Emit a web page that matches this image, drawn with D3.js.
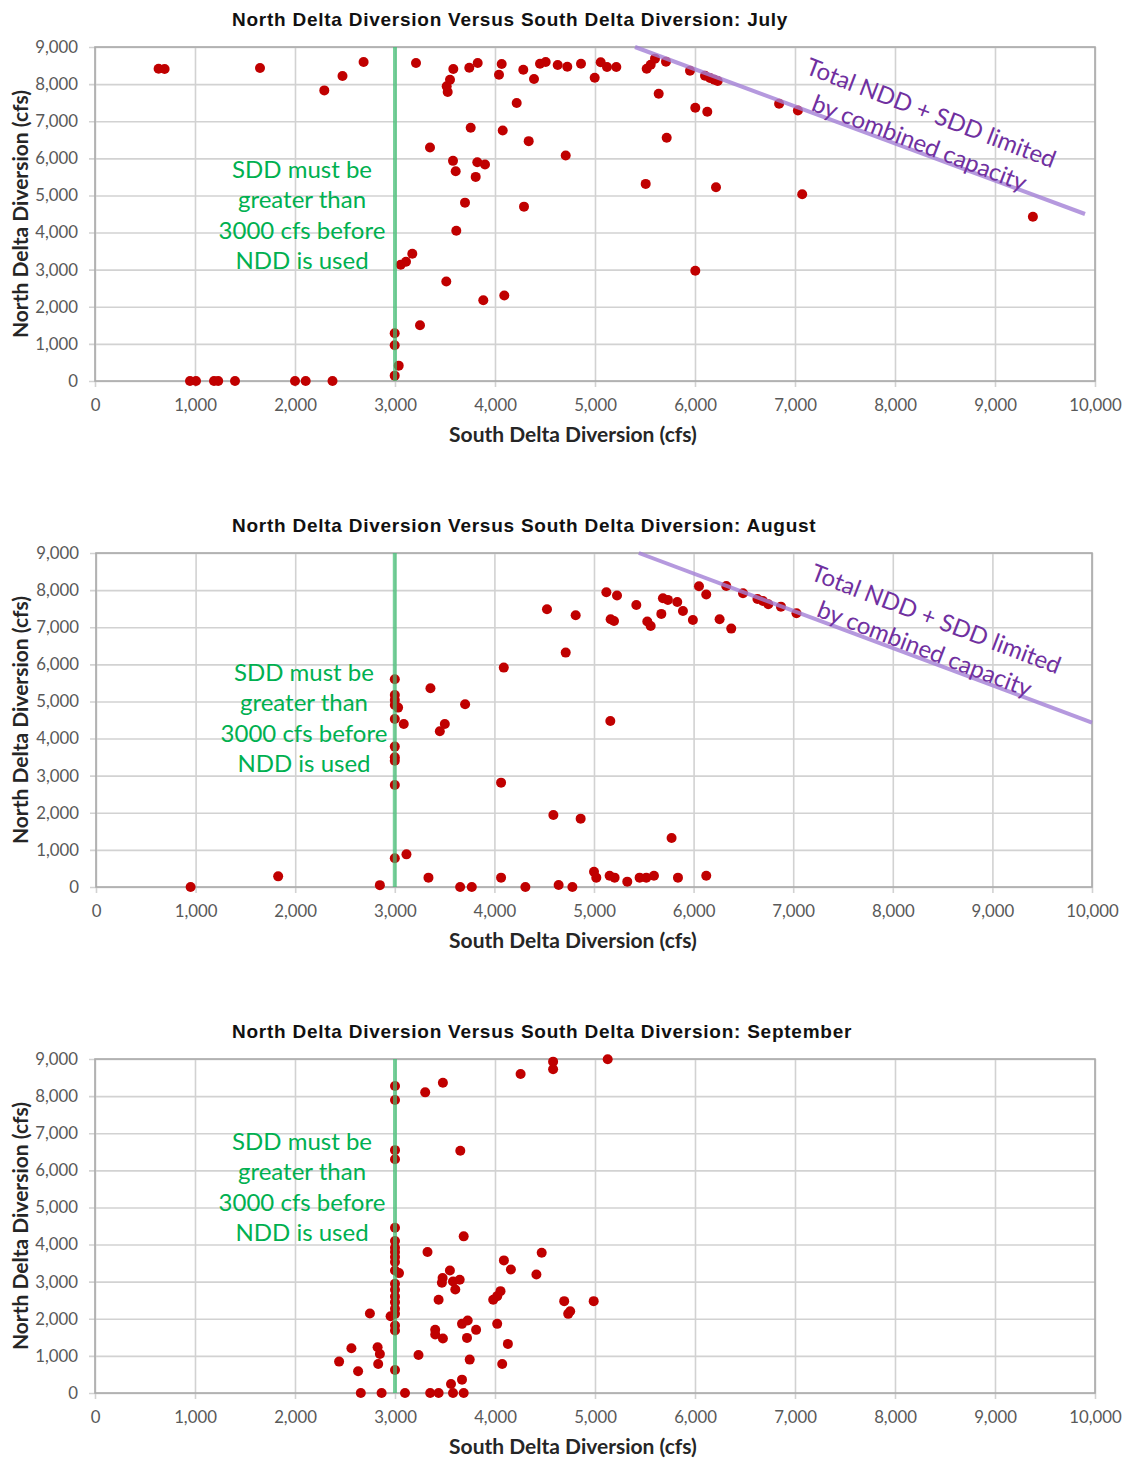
<!DOCTYPE html>
<html>
<head>
<meta charset="utf-8">
<script src="https://cdn.jsdelivr.net/npm/d3@7"></script>
<style>
  body { margin: 0; background: #fff; }
  svg { display: block; background: #fff; }
  .grid line { stroke: #d2d2d2; stroke-width: 1.6; }
  .grid .domain { display: none; }
  .grid text { font-family: Lato, "Open Sans", sans-serif; font-size: 16.8px; fill: #595959; }
  .title { font-family: "Liberation Sans", Arial, sans-serif; font-weight: bold; font-size: 19px; fill: #111; letter-spacing: 0.75px; }
  .axis-title { font-family: Lato, "Open Sans", sans-serif; font-weight: bold; font-size: 21px; fill: #262626; }
  .sdd-note { font-family: Lato, "Open Sans", sans-serif; font-size: 24px; fill: #00b050; }
  .limit-note { font-family: Lato, "Open Sans", sans-serif; font-size: 24px; fill: #7030a0; }
</style>
</head>
<body>
<svg id="chart" width="1126" height="1459"></svg>
<script>
// [SDD, NDD] pairs
var julyPoints = [
  [636, 8416], [696, 8407], [1650, 8434], [2293, 7831], [2475, 8218], [2686, 8596],
  [950, 0], [1010, 0], [1190, 0], [1232, 0], [1400, 0], [2000, 0], [2107, 0], [2375, 0],
  [3210, 8570], [3583, 8407], [3550, 8119], [3517, 7939], [3527, 7786], [3743, 8443],
  [3827, 8569], [4067, 8542], [4040, 8254], [4283, 8389], [4390, 8137], [4450, 8551],
  [4507, 8596], [4627, 8515], [4723, 8470], [4860, 8551], [4997, 8173], [5057, 8587],
  [5120, 8461], [5213, 8461], [5517, 8416], [5557, 8524], [5600, 8686], [5710, 8605],
  [5950, 8362], [6100, 8227], [6150, 8164], [6193, 8119], [6227, 8083], [5637, 7741],
  [6003, 7363], [6123, 7255], [4217, 7489], [3757, 6823], [4077, 6751], [4337, 6463],
  [5717, 6553], [3350, 6292], [3580, 5932], [3607, 5653], [3823, 5896], [3900, 5833],
  [3807, 5500], [4707, 6076], [5507, 5311], [6210, 5221], [3700, 4806], [4290, 4698],
  [3613, 4050], [3173, 3429], [3110, 3213], [3057, 3132], [3513, 2682], [3883, 2178],
  [4093, 2304], [6003, 2970], [3250, 1503], [2997, 1287], [2997, 963], [3037, 414],
  [2997, 144], [6841, 7471], [7029, 7291], [7072, 5031], [9379, 4428]
];

var augustPoints = [
  [950, 0], [1829, 287], [2850, 50],
  [5124, 7942], [5231, 7853], [4528, 7484], [4816, 7322], [5425, 7601], [5167, 7215],
  [5201, 7170], [5692, 7781], [5742, 7736], [5836, 7682], [5676, 7359], [5893, 7439],
  [5535, 7152], [5569, 7035], [5993, 7197], [6054, 8104], [6127, 7880], [6328, 8113],
  [6261, 7215], [6378, 6963], [6496, 7915], [6641, 7762], [6696, 7708], [6750, 7618],
  [6877, 7555], [7033, 7376],
  [4716, 6316], [4094, 5912], [3000, 5598], [3000, 5175], [3000, 5040], [3000, 4906],
  [3033, 4834], [3000, 4528], [3090, 4394], [3358, 5355], [3706, 4924], [3502, 4394],
  [3452, 4196], [5164, 4474], [3000, 3783], [3000, 3495], [3000, 3405], [3000, 2749],
  [4067, 2812], [4592, 1941], [4866, 1842], [5779, 1321], [3000, 773], [3117, 880],
  [3338, 252], [3656, 0], [3773, 0], [4067, 252], [4311, 0], [4645, 54], [4783, 0],
  [5000, 413], [5023, 252], [5157, 305], [5207, 252], [5334, 144], [5458, 252],
  [5525, 252], [5602, 305], [5843, 252], [6127, 305]
];

var septemberPoints = [
  [5127, 8992], [4581, 8929], [4581, 8722], [4256, 8596], [3479, 8362], [3302, 8101],
  [3000, 8272], [3000, 7894], [3653, 6526], [3000, 6544], [3000, 6301], [3687, 4221],
  [3000, 4455], [3000, 4095], [3000, 3915], [3000, 3798], [3000, 3663], [3000, 3528],
  [3040, 3231], [3000, 3303], [3000, 2943], [3000, 2781], [3000, 2601], [3000, 2448],
  [3000, 2268], [3000, 2133], [2956, 2070], [3000, 1683], [3000, 1818], [3000, 621],
  [3325, 3798], [4089, 3573], [4159, 3330], [4467, 3780], [4414, 3195], [3549, 3303],
  [3476, 3096], [3469, 2970], [3580, 3006], [3647, 3051], [3603, 2790], [3436, 2511],
  [4055, 2745], [4022, 2610], [3982, 2511], [4692, 2475], [4987, 2475], [4732, 2133],
  [4752, 2205], [2749, 2142], [3670, 1863], [3727, 1953], [3811, 1701], [3402, 1701],
  [3402, 1575], [3479, 1467], [3720, 1485], [4022, 1863], [4129, 1323], [3747, 900],
  [4072, 783], [3235, 1026], [2564, 1206], [2826, 1233], [2849, 1053], [2441, 846],
  [2832, 783], [2631, 585], [3670, 360], [3560, 243], [2658, 0], [2866, 0], [3100, 0],
  [3352, 0], [3436, 0], [3580, 0], [3687, 0]
];

var xTicks = d3.range(0, 10001, 1000);
var yTicks = d3.range(0, 9001, 1000);
var sddMinimum = 3000;

// combined capacity line (start and end, in cfs)
var julyLimit = [[5400, 9000], [9900, 4500]];
var augustLimit = [[5450, 9000], [10000, 4430]];

var sddNote = ["SDD must be", "greater than", "3000 cfs before", "NDD is used"];
var limitNote = ["Total NDD + SDD limited", "by combined capacity"];

var panels = [
  { month: "July", points: julyPoints, limit: julyLimit,
    left: 95, right: 1095, top: 47, bottom: 381,
    sddAt: [2070, 5470], limitAt: [8330, 7010] },
  { month: "August", points: augustPoints, limit: augustLimit,
    left: 96, right: 1092, top: 553, bottom: 887,
    sddAt: [2088, 5550], limitAt: [8404, 7010] },
  { month: "September", points: septemberPoints, limit: null,
    left: 95, right: 1095, top: 1059, bottom: 1393,
    sddAt: [2070, 6550], limitAt: null }
];

var svg = d3.select("#chart");

var drawPanel = function(p) {
  var width = p.right - p.left;
  var height = p.bottom - p.top;

  var xScale = d3.scaleLinear().domain([0, 10000]).range([p.left, p.right]);
  var yScale = d3.scaleLinear().domain([0, 9000]).range([p.bottom, p.top]);

  var g = svg.append("g");

  g.append("text").
    attr("class", "title").
    attr("x", 232).
    attr("y", p.top - 21).
    text("North Delta Diversion Versus South Delta Diversion:  " + p.month);

  g.append("g").
    attr("class", "grid").
    attr("transform", "translate(0," + (p.bottom + 6) + ")").
    call(d3.axisBottom(xScale).
      tickValues(xTicks).
      tickFormat(d3.format(",")).
      tickSizeInner(-(height + 6)).
      tickSizeOuter(0).
      tickPadding(12));

  g.append("g").
    attr("class", "grid").
    attr("transform", "translate(" + (p.left - 6) + ",0)").
    call(d3.axisLeft(yScale).
      tickValues(yTicks).
      tickFormat(d3.format(",")).
      tickSizeInner(-(width + 6)).
      tickSizeOuter(0).
      tickPadding(11));

  g.append("rect").
    attr("x", p.left).
    attr("y", p.top).
    attr("width", width).
    attr("height", height).
    attr("fill", "none").
    attr("stroke", "#aaaaaa").
    attr("stroke-width", 1.6);

  g.append("g").
    selectAll("circle").
    data(p.points).
    enter().append("circle").
    attr("cx", function(d) { return xScale(d[0]); }).
    attr("cy", function(d) { return yScale(d[1]); }).
    attr("r", 5).
    attr("fill", "#c00000");

  g.append("line").
    attr("x1", xScale(sddMinimum)).
    attr("x2", xScale(sddMinimum)).
    attr("y1", yScale(0)).
    attr("y2", yScale(9000)).
    attr("stroke", "#3fbf72").
    attr("stroke-opacity", 0.7).
    attr("stroke-width", 4);

  if (p.limit) {
    g.append("line").
      attr("x1", xScale(p.limit[0][0])).
      attr("y1", yScale(p.limit[0][1])).
      attr("x2", xScale(p.limit[1][0])).
      attr("y2", yScale(p.limit[1][1])).
      attr("stroke", "#a27fd6").
      attr("stroke-opacity", 0.8).
      attr("stroke-width", 4);

    var lt = g.append("text").
      attr("class", "limit-note").
      attr("text-anchor", "middle").
      attr("transform", "translate(" + xScale(p.limitAt[0]) + "," + yScale(p.limitAt[1]) + ") rotate(21)");
    lt.selectAll("tspan").
      data(limitNote).
      enter().append("tspan").
      attr("x", 0).
      attr("y", function(d, i) { return i * 32; }).
      text(function(d) { return d; });
  }

  var st = g.append("text").
    attr("class", "sdd-note").
    attr("text-anchor", "middle");
  st.selectAll("tspan").
    data(sddNote).
    enter().append("tspan").
    attr("x", xScale(p.sddAt[0])).
    attr("y", function(d, i) { return yScale(p.sddAt[1]) + i * 30.3; }).
    text(function(d) { return d; });

  g.append("text").
    attr("class", "axis-title").
    attr("text-anchor", "middle").
    attr("x", 573).
    attr("y", p.bottom + 61).
    text("South Delta Diversion (cfs)");

  g.append("text").
    attr("class", "axis-title").
    attr("text-anchor", "middle").
    attr("transform", "translate(28," + ((p.top + p.bottom) / 2) + ") rotate(-90)").
    text("North Delta Diversion (cfs)");
};

panels.forEach(drawPanel);
</script>
</body>
</html>
